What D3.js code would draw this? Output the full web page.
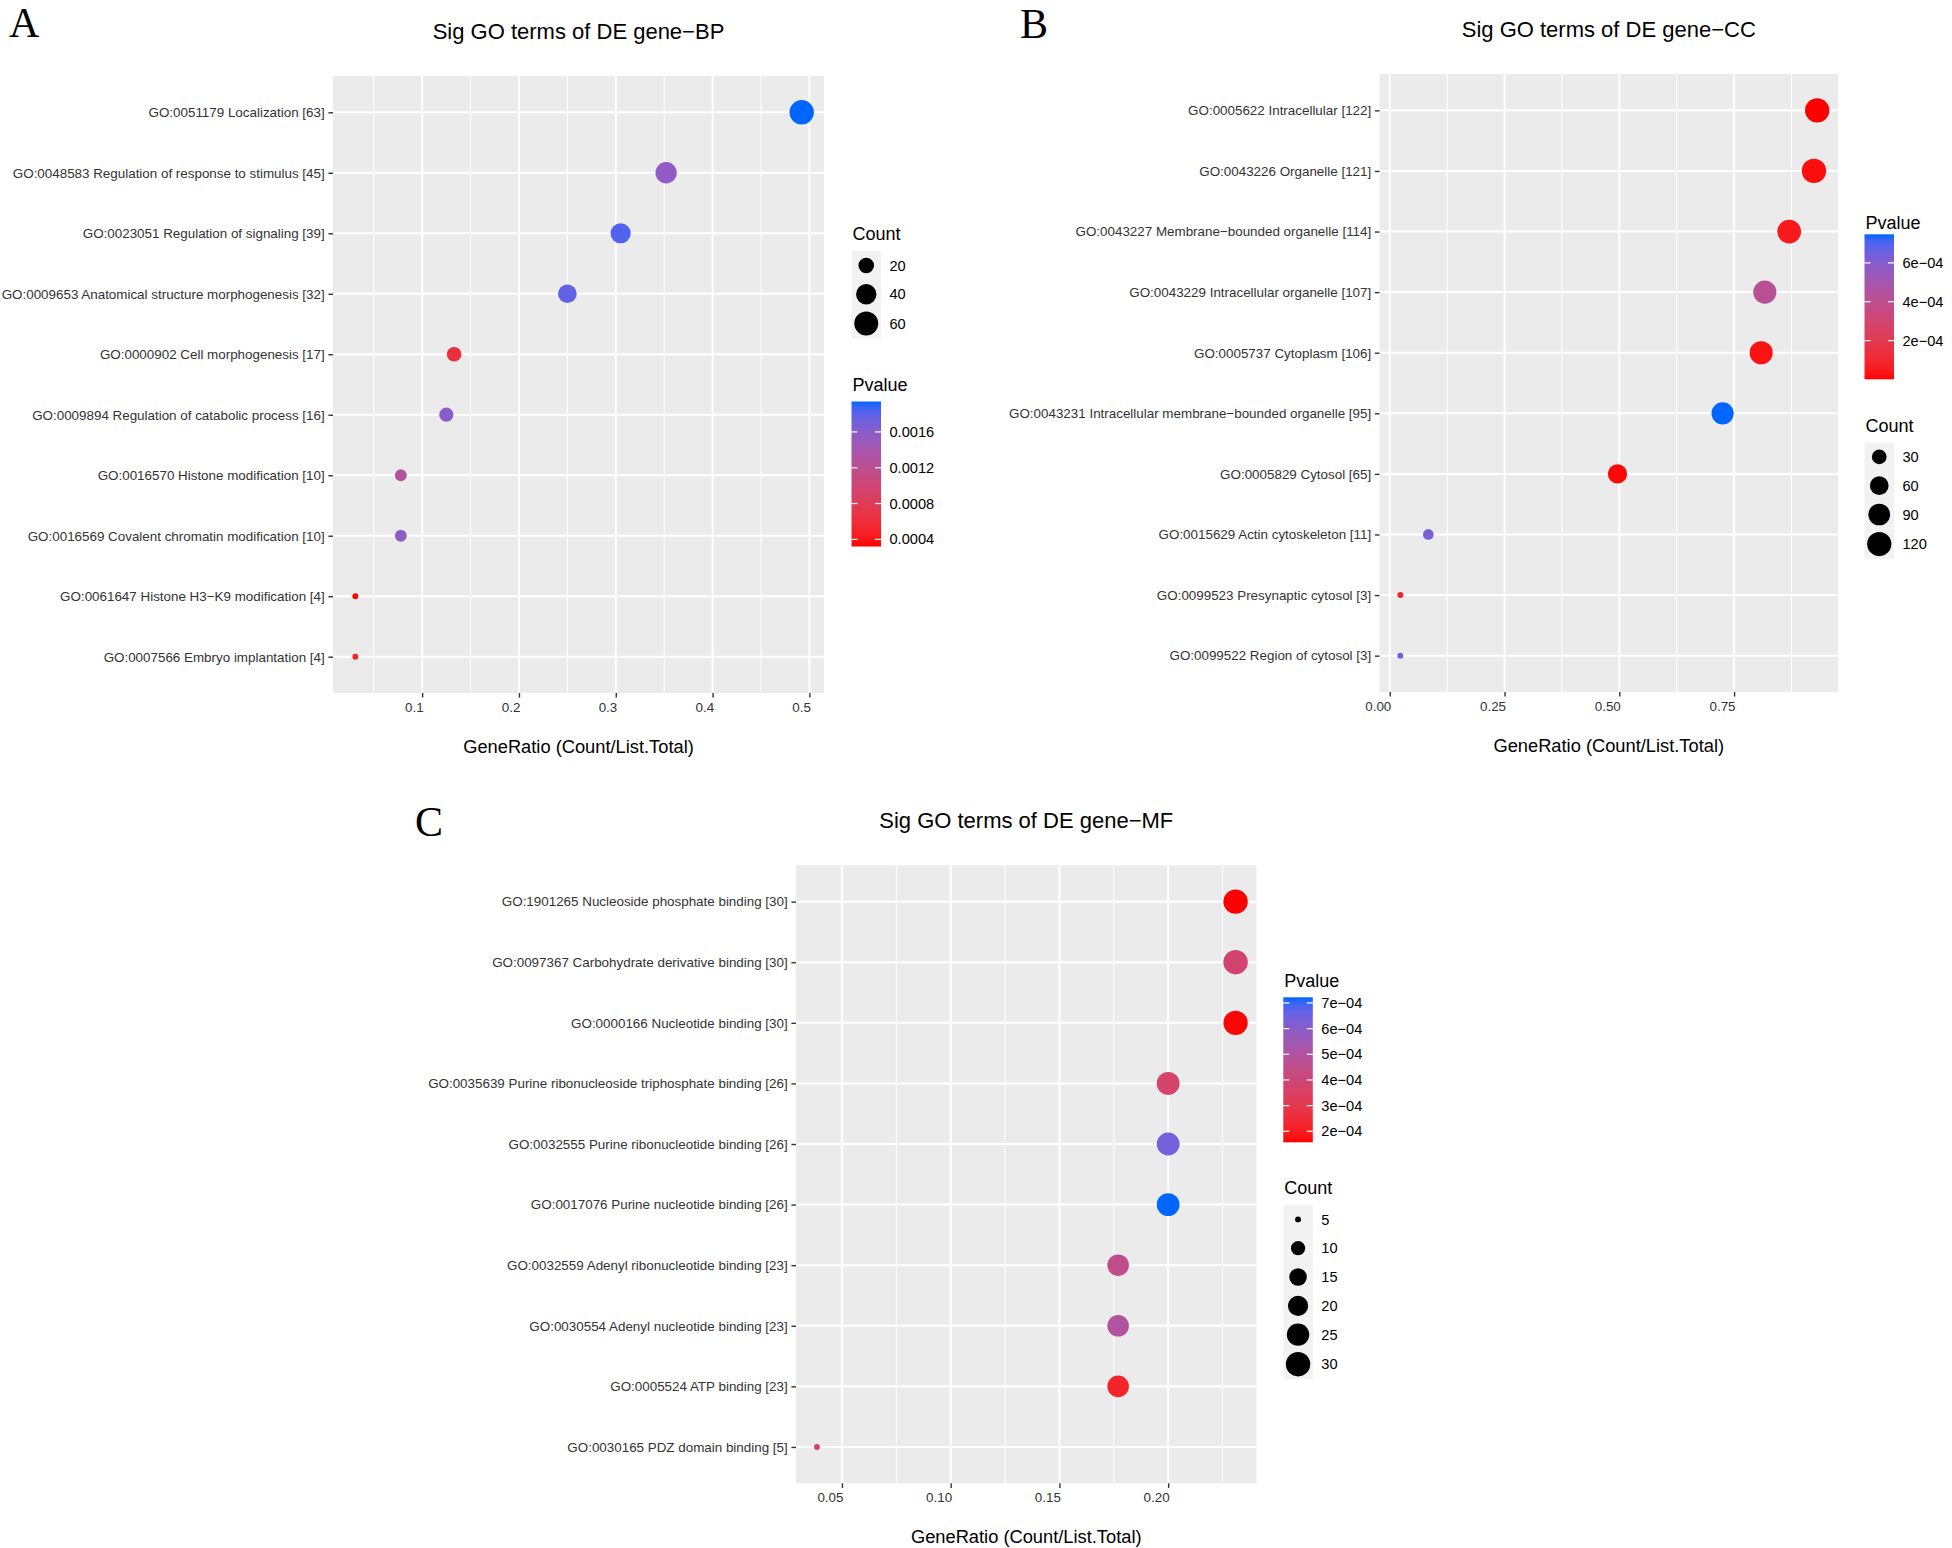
<!DOCTYPE html>
<html>
<head>
<meta charset="utf-8">
<script src="https://cdn.jsdelivr.net/npm/d3@7"></script>
<style>
  body { margin: 0; background: #fff; }
  text { font-family: "Liberation Sans", Arial, sans-serif; }
</style>
</head>
<body>
<div id="chart"></div>
<script>
// ---- BP ----
var bpTerms = ["GO:0051179 Localization", "GO:0048583 Regulation of response to stimulus",
  "GO:0023051 Regulation of signaling", "GO:0009653 Anatomical structure morphogenesis",
  "GO:0000902 Cell morphogenesis", "GO:0009894 Regulation of catabolic process",
  "GO:0016570 Histone modification", "GO:0016569 Covalent chromatin modification",
  "GO:0061647 Histone H3\u2212K9 modification", "GO:0007566 Embryo implantation"];
var bpCount = [63, 45, 39, 32, 17, 16, 10, 10, 4, 4];
var bpRatio = [0.492, 0.352, 0.305, 0.250, 0.133, 0.125, 0.078, 0.078, 0.031, 0.031];
var bpPvalue = [0.00194, 0.00155, 0.00183, 0.00178, 0.00062, 0.0016, 0.00128, 0.00156, 0.00032, 0.00048];
var bpXTicks = [0.1, 0.2, 0.3, 0.4, 0.5];
var bpPTicks = [0.0004, 0.0008, 0.0012, 0.0016];
var bpPLabels = ["0.0004", "0.0008", "0.0012", "0.0016"];
var bpCountBreaks = [20, 40, 60];

// ---- CC ----
var ccTerms = ["GO:0005622 Intracellular", "GO:0043226 Organelle",
  "GO:0043227 Membrane\u2212bounded organelle", "GO:0043229 Intracellular organelle",
  "GO:0005737 Cytoplasm", "GO:0043231 Intracellular membrane\u2212bounded organelle",
  "GO:0005829 Cytosol", "GO:0015629 Actin cytoskeleton",
  "GO:0099523 Presynaptic cytosol", "GO:0099522 Region of cytosol"];
var ccCount = [122, 121, 114, 107, 106, 95, 65, 11, 3, 3];
var ccRatio = [0.931, 0.924, 0.870, 0.817, 0.809, 0.725, 0.496, 0.084, 0.023, 0.023];
var ccPvalue = [0.0000008, 0.00002, 0.00005, 0.00042, 0.00003, 0.000747, 0.00001, 0.00062, 0.00008, 0.00065];
var ccXTicks = [0, 0.25, 0.5, 0.75];
var ccPTicks = [0.0002, 0.0004, 0.0006];
var ccPLabels = ["2e\u221204", "4e\u221204", "6e\u221204"];
var ccCountBreaks = [30, 60, 90, 120];

// ---- MF ----
var mfTerms = ["GO:1901265 Nucleoside phosphate binding", "GO:0097367 Carbohydrate derivative binding",
  "GO:0000166 Nucleotide binding", "GO:0035639 Purine ribonucleoside triphosphate binding",
  "GO:0032555 Purine ribonucleotide binding", "GO:0017076 Purine nucleotide binding",
  "GO:0032559 Adenyl ribonucleotide binding", "GO:0030554 Adenyl nucleotide binding",
  "GO:0005524 ATP binding", "GO:0030165 PDZ domain binding"];
var mfCount = [30, 30, 30, 26, 26, 26, 23, 23, 23, 5];
var mfRatio = [0.231, 0.231, 0.231, 0.200, 0.200, 0.200, 0.177, 0.177, 0.177, 0.0385];
var mfPvalue = [0.000157, 0.00038, 0.000162, 0.00037, 0.00064, 0.000722, 0.00045, 0.0005, 0.00022, 0.00035];
var mfXTicks = [0.05, 0.10, 0.15, 0.20];
var mfPTicks = [0.0002, 0.0003, 0.0004, 0.0005, 0.0006, 0.0007];
var mfPLabels = ["2e\u221204", "3e\u221204", "4e\u221204", "5e\u221204", "6e\u221204", "7e\u221204"];
var mfCountBreaks = [5, 10, 15, 20, 25, 30];

var lowColor = "#FF0000", highColor = "#0066FF";

var svg = d3.select("#chart").append("svg")
  .attr("width", 1952)
  .attr("height", 1548)
  .style("background", "#fff");

var defs = svg.append("defs");

function expand(ext) {
  var d = (ext[1] - ext[0]) * 0.05;
  return [ext[0] - d, ext[1] + d];
}

function drawPanel(cfg) {
  var g = svg.append("g");
  var labels = cfg.terms.map((t, i) => t + " [" + cfg.count[i] + "]");

  var x = d3.scaleLinear().domain(expand(d3.extent(cfg.ratio))).range([cfg.x0, cfg.x1]);
  var y = d3.scalePoint().domain(labels).range([cfg.y0, cfg.y1]).padding(0.6);
  var color = d3.scaleLinear().domain(d3.extent(cfg.pvalue))
    .range([lowColor, highColor]).interpolate(d3.interpolateLab);

  var cMin = d3.min(cfg.count), cMax = d3.max(cfg.count);
  var sizeScale = d3.scaleLinear().domain([0, 1]).range([1, 6]);
  var radius = c => 1.85 * sizeScale(Math.sqrt((c - cMin) / (cMax - cMin))) + 1.1;

  // panel background
  g.append("rect")
    .attr("x", cfg.x0).attr("y", cfg.y0)
    .attr("width", cfg.x1 - cfg.x0).attr("height", cfg.y1 - cfg.y0)
    .attr("fill", "#EBEBEB");

  // minor grid
  var step = cfg.xTicks[1] - cfg.xTicks[0];
  var minor = [cfg.xTicks[0] - step / 2].concat(cfg.xTicks.map(t => t + step / 2))
    .filter(v => v > x.domain()[0] && v < x.domain()[1]);
  g.selectAll(".minor").data(minor).enter().append("line")
    .attr("x1", d => x(d)).attr("x2", d => x(d))
    .attr("y1", cfg.y0).attr("y2", cfg.y1)
    .attr("stroke", "#fff").attr("stroke-width", 1);

  // major grid
  g.selectAll(".vmajor").data(cfg.xTicks).enter().append("line")
    .attr("x1", d => x(d)).attr("x2", d => x(d))
    .attr("y1", cfg.y0).attr("y2", cfg.y1)
    .attr("stroke", "#fff").attr("stroke-width", 2);
  g.selectAll(".hmajor").data(labels).enter().append("line")
    .attr("x1", cfg.x0).attr("x2", cfg.x1)
    .attr("y1", d => y(d)).attr("y2", d => y(d))
    .attr("stroke", "#fff").attr("stroke-width", 2);

  // points
  g.selectAll("circle.pt").data(labels).enter().append("circle")
    .attr("cx", (d, i) => x(cfg.ratio[i]))
    .attr("cy", d => y(d))
    .attr("r", (d, i) => radius(cfg.count[i]))
    .attr("fill", (d, i) => color(cfg.pvalue[i]));

  // axes
  var xAxis = g.append("g")
    .attr("transform", `translate(0, ${cfg.y1})`)
    .call(d3.axisBottom(x).tickValues(cfg.xTicks).tickFormat(cfg.xFormat)
      .tickSize(4.6).tickPadding(5));
  var yAxis = g.append("g")
    .attr("transform", `translate(${cfg.x0}, 0)`)
    .call(d3.axisLeft(y).tickSize(4.6).tickPadding(3.7));

  [xAxis, yAxis].forEach(function(a) {
    a.select(".domain").remove();
    a.attr("font-family", null).attr("font-size", null);
    a.selectAll(".tick line").attr("stroke", "#333").attr("stroke-width", 1.4);
    a.selectAll(".tick text").attr("fill", "#333").style("font-size", "13.4px");
  });
  xAxis.selectAll(".tick text").attr("text-anchor", "end").attr("x", 1);

  // titles
  g.append("text")
    .attr("x", (cfg.x0 + cfg.x1) / 2).attr("y", cfg.y0 - 37.5)
    .attr("text-anchor", "middle").style("font-size", "22px")
    .text(cfg.title);
  g.append("text")
    .attr("x", (cfg.x0 + cfg.x1) / 2).attr("y", cfg.y1 + 59.5)
    .attr("text-anchor", "middle").style("font-size", "18.3px")
    .text("GeneRatio (Count/List.Total)");

  // panel letter
  svg.append("text")
    .attr("x", cfg.letterX).attr("y", cfg.letterY)
    .style("font-family", '"Liberation Serif", "Times New Roman", serif')
    .style("font-size", "42px")
    .text(cfg.letter);

  // colour bar legend
  var barW = 29.5, barH = 145;
  var gid = "grad" + cfg.letter;
  var grad = defs.append("linearGradient").attr("id", gid)
    .attr("x1", 0).attr("y1", 1).attr("x2", 0).attr("y2", 0);
  d3.range(0, 1.0001, 0.05).forEach(function(t) {
    var v = color.domain()[0] + t * (color.domain()[1] - color.domain()[0]);
    grad.append("stop").attr("offset", t).attr("stop-color", color(v));
  });
  var lg = svg.append("g");
  lg.append("text").attr("x", cfg.legX + 1).attr("y", cfg.pTitleY)
    .style("font-size", "18px").text("Pvalue");
  lg.append("rect").attr("x", cfg.legX).attr("y", cfg.barTop)
    .attr("width", barW).attr("height", barH).attr("fill", `url(#${gid})`);
  var barY = d3.scaleLinear().domain(color.domain()).range([cfg.barTop + barH, cfg.barTop]);
  cfg.pTicks.forEach(function(v, i) {
    lg.append("line").attr("x1", cfg.legX).attr("x2", cfg.legX + 6)
      .attr("y1", barY(v)).attr("y2", barY(v)).attr("stroke", "#fff").attr("stroke-width", 1.2);
    lg.append("line").attr("x1", cfg.legX + barW - 6).attr("x2", cfg.legX + barW)
      .attr("y1", barY(v)).attr("y2", barY(v)).attr("stroke", "#fff").attr("stroke-width", 1.2);
    lg.append("text").attr("x", cfg.legX + 38).attr("y", barY(v)).attr("dy", "0.35em")
      .style("font-size", "14.6px").text(cfg.pLabels[i]);
  });

  // size legend
  lg.append("text").attr("x", cfg.legX + 1).attr("y", cfg.cTitleY)
    .style("font-size", "18px").text("Count");
  var keyH = cfg.countBreaks.map(c => Math.max(28.8, 2 * radius(c) + 6));
  lg.append("rect").attr("x", cfg.legX).attr("y", cfg.keyTop)
    .attr("width", barW).attr("height", d3.sum(keyH)).attr("fill", "#F2F2F2");
  var yy = cfg.keyTop;
  cfg.countBreaks.forEach(function(c, i) {
    var cy = yy + keyH[i] / 2;
    lg.append("circle").attr("cx", cfg.legX + barW / 2).attr("cy", cy)
      .attr("r", radius(c)).attr("fill", "#000");
    lg.append("text").attr("x", cfg.legX + 38).attr("y", cy).attr("dy", "0.35em")
      .style("font-size", "14.6px").text(c);
    yy += keyH[i];
  });
}

drawPanel({
  letter: "A", letterX: 9, letterY: 37, title: "Sig GO terms of DE gene\u2212BP",
  terms: bpTerms, count: bpCount, ratio: bpRatio, pvalue: bpPvalue,
  xTicks: bpXTicks, xFormat: d3.format(".1f"),
  pTicks: bpPTicks, pLabels: bpPLabels, countBreaks: bpCountBreaks,
  x0: 333, x1: 824, y0: 76, y1: 693,
  legX: 851.5, cTitleY: 240, keyTop: 251, pTitleY: 391, barTop: 401.5
});

drawPanel({
  letter: "B", letterX: 1020, letterY: 38, title: "Sig GO terms of DE gene\u2212CC",
  terms: ccTerms, count: ccCount, ratio: ccRatio, pvalue: ccPvalue,
  xTicks: ccXTicks, xFormat: d3.format(".2f"),
  pTicks: ccPTicks, pLabels: ccPLabels, countBreaks: ccCountBreaks,
  x0: 1379.5, x1: 1838, y0: 74, y1: 692,
  legX: 1864.5, pTitleY: 229, barTop: 234.3, cTitleY: 431.7, keyTop: 442.5
});

drawPanel({
  letter: "C", letterX: 415, letterY: 836, title: "Sig GO terms of DE gene\u2212MF",
  terms: mfTerms, count: mfCount, ratio: mfRatio, pvalue: mfPvalue,
  xTicks: mfXTicks, xFormat: d3.format(".2f"),
  pTicks: mfPTicks, pLabels: mfPLabels, countBreaks: mfCountBreaks,
  x0: 796, x1: 1256.5, y0: 865.3, y1: 1483.3,
  legX: 1283.3, pTitleY: 986.7, barTop: 997.3, cTitleY: 1194, keyTop: 1205
});
</script>
</body>
</html>
